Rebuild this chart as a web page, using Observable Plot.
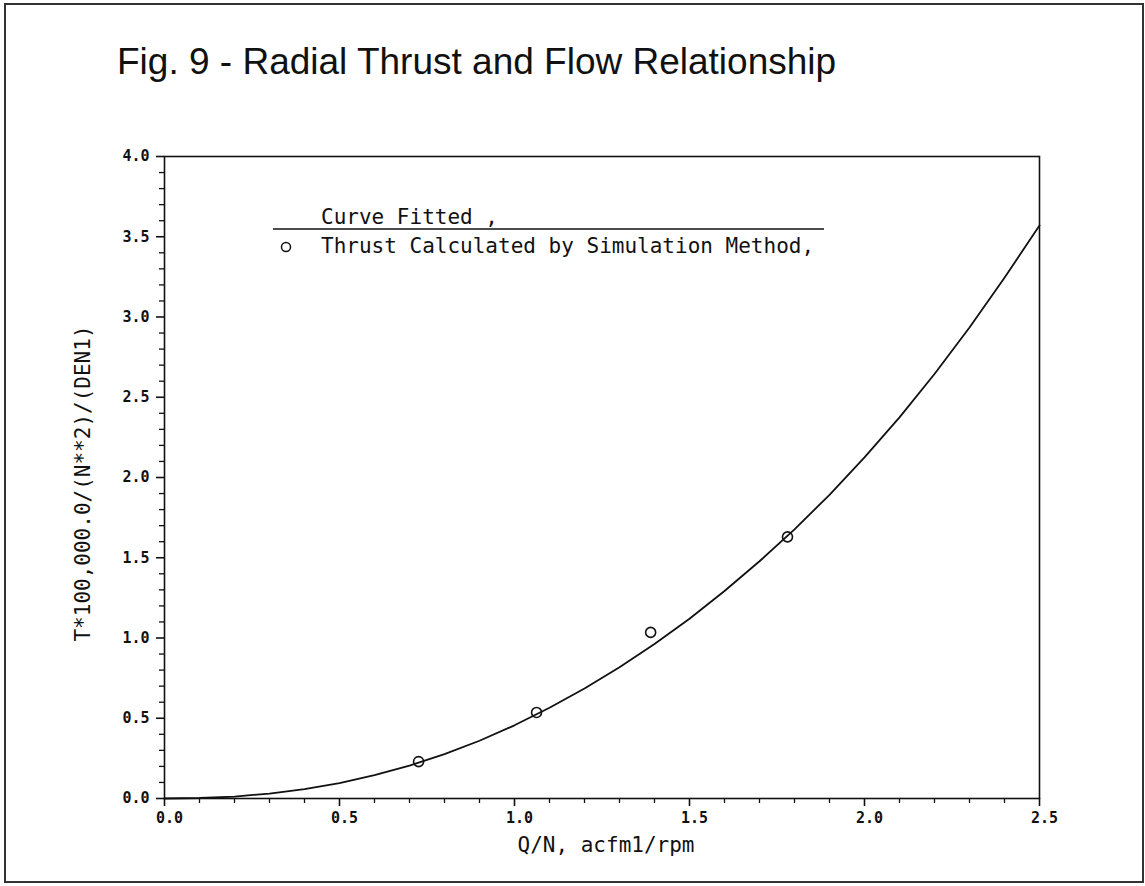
<!DOCTYPE html>
<html><head><meta charset="utf-8">
<script src="https://cdn.jsdelivr.net/npm/d3@7"></script>
<script src="https://cdn.jsdelivr.net/npm/@observablehq/plot@0.6"></script>
<style>
html,body{margin:0;padding:0;background:#fff;}
#page{position:relative;width:1145px;height:886px;overflow:hidden;background:#fff;}
#title{position:absolute;left:117px;top:43px;font-family:"Liberation Sans",Arial,sans-serif;font-size:37px;line-height:37px;color:#111;white-space:nowrap;}
#chart{position:absolute;left:0;top:100px;}
#border{position:absolute;left:4px;top:3px;width:1140px;height:880px;border:2px solid #333;box-sizing:border-box;pointer-events:none;}
</style></head>
<body>
<div id="page"><div id="title"></div><div id="chart"></div><div id="border"></div></div>
<script>
const titleText = "Fig. 9 - Radial Thrust and Flow Relationship";
const xLabel = "Q/N, acfm1/rpm";
const yLabel = "T*100,000.0/(N**2)/(DEN1)";
const legendCurve = "Curve Fitted ,";
const legendPoints = "Thrust Calculated by Simulation Method,";

// fitted curve
const curveX = [0,0.1,0.2,0.3,0.4,0.5,0.6,0.7,0.8,0.9,1.0,1.1,1.2,1.3,1.4,1.5,1.6,1.7,1.8,1.9,2.0,2.1,2.2,2.3,2.4,2.5];
const curveY = [0,0.003,0.012,0.031,0.058,0.096,0.145,0.205,0.276,0.360,0.456,0.565,0.685,0.818,0.962,1.120,1.293,1.478,1.677,1.892,2.125,2.375,2.645,2.935,3.245,3.570];

// simulated thrust points
const pointX = [0.726, 1.063, 1.389, 1.780];
const pointY = [0.230, 0.536, 1.035, 1.630];

const xTicks = [0, 0.5, 1.0, 1.5, 2.0, 2.5];
const yTicks = [0, 0.5, 1.0, 1.5, 2.0, 2.5, 3.0, 3.5, 4.0];
const xMinor = [0.1,0.2,0.3,0.4,0.6,0.7,0.8,0.9,1.1,1.2,1.3,1.4,1.6,1.7,1.8,1.9,2.1,2.2,2.3,2.4];
const yMinor = [0.1,0.2,0.3,0.4,0.6,0.7,0.8,0.9,1.1,1.2,1.3,1.4,1.6,1.7,1.8,1.9,2.1,2.2,2.3,2.4,2.6,2.7,2.8,2.9,3.1,3.2,3.3,3.4,3.6,3.7,3.8,3.9];

document.getElementById("title").textContent = titleText;

const curve = curveX.map((x, i) => ({x, y: curveY[i]}));
const pts = pointX.map((x, i) => ({x, y: pointY[i]}));
const ink = "#111";

function legendMark(index, scales, values, dims) {
  const ox = dims.marginLeft, oy = dims.marginTop;
  const g = d3.create("svg:g")
    .attr("font-family", "DejaVu Sans Mono")
    .attr("font-size", 21)
    .attr("text-anchor", "start")
    .attr("fill", ink);
  g.append("line")
    .attr("x1", ox + 109).attr("x2", ox + 660)
    .attr("y1", oy + 73).attr("y2", oy + 73)
    .attr("stroke", ink).attr("stroke-width", 1.5);
  g.append("text").attr("text-anchor", "start").attr("x", ox + 157).attr("y", oy + 68).text(legendCurve);
  g.append("circle").attr("cx", ox + 122).attr("cy", oy + 91).attr("r", 4.5)
    .attr("fill", "none").attr("stroke", ink).attr("stroke-width", 1.5);
  g.append("text").attr("text-anchor", "start").attr("x", ox + 157).attr("y", oy + 97).text(legendPoints);
  return g.node();
}

const fmt = d3.format(".1f");
const chart = Plot.plot({
  width: 1145, height: 786,
  marginLeft: 164, marginRight: 106, marginTop: 56, marginBottom: 88,
  x: {domain: [0, 2.5]},
  y: {domain: [0, 4]},
  style: {fontFamily: "DejaVu Sans Mono", fontSize: "15px", color: ink, background: "transparent", overflow: "visible"},
  marks: [
    Plot.axisX({ticks: xMinor, tickSize: 5, text: null, strokeWidth: 1.3, label: null}),
    Plot.axisY({ticks: yMinor, tickSize: 5, text: null, strokeWidth: 1.3, label: null}),
    Plot.axisX({ticks: xTicks, tickSize: 8, text: null, strokeWidth: 1.6, label: null}),
    Plot.axisY({ticks: yTicks, tickSize: 8, text: null, strokeWidth: 1.6, label: null}),
    Plot.axisX({ticks: xTicks, tickSize: 0, tickPadding: 14, dx: 5, tickFormat: fmt, fontWeight: "bold", fontSize: 15, label: null}),
    Plot.axisY({ticks: yTicks, tickSize: 0, tickPadding: 15, tickFormat: fmt, fontWeight: "bold", fontSize: 15, label: null}),
    Plot.frame({stroke: ink, strokeWidth: 1.6}),
    Plot.line(curve, {x: "x", y: "y", stroke: ink, strokeWidth: 1.8}),
    Plot.dot(pts, {x: "x", y: "y", r: 5, stroke: ink, strokeWidth: 1.6, fill: "none"}),
    Plot.text([xLabel], {text: d => d, frameAnchor: "bottom", textAnchor: "middle", lineAnchor: "top", dx: 4, dy: 39, fontSize: 21}),
    Plot.text([yLabel], {text: d => d, frameAnchor: "left", textAnchor: "middle", lineAnchor: "middle", rotate: -90, dx: -81, dy: 6, fontSize: 21}),
    legendMark
  ]
});
document.getElementById("chart").appendChild(chart);
</script>
</body></html>
